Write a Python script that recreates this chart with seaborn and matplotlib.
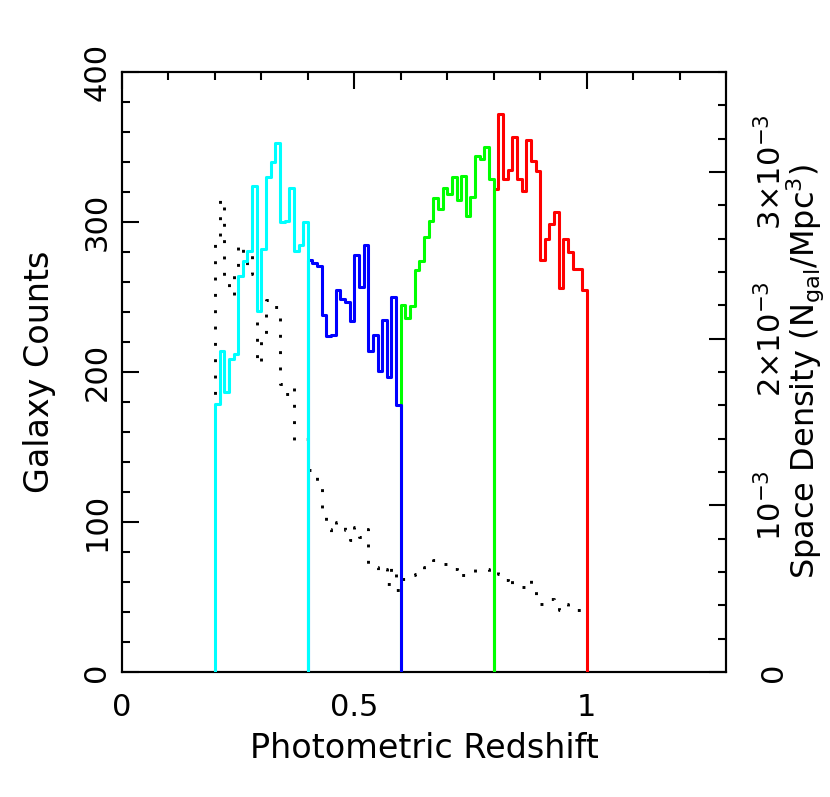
import numpy as np
import pandas as pd
import matplotlib
matplotlib.use("Agg")
import matplotlib.pyplot as plt
from matplotlib.ticker import MultipleLocator, FixedLocator
import seaborn as sns

# redshift slices, 0.01 wide bins
BIN_WIDTH = 0.01
slice_starts = [0.2, 0.4, 0.6, 0.8]
slice_colors = ['#00ffff', '#0000ff', '#00ff00', '#ff0000']

# galaxy counts per bin (left axis)
cyan_counts = [179, 214, 187, 209, 212, 264, 274, 281, 324, 241,
               282, 330, 340, 353, 300, 301, 323, 281, 285, 300]
blue_counts = [275, 273, 271, 238, 224, 225, 255, 249, 247, 234,
               278, 257, 285, 214, 225, 201, 235, 197, 250, 178]
green_counts = [245, 236, 244, 268, 274, 290, 301, 316, 309, 323,
                319, 330, 315, 331, 304, 317, 344, 342, 350, 329]
red_counts = [322, 372, 329, 335, 357, 329, 321, 355, 341, 334,
              275, 289, 299, 307, 256, 289, 280, 269, 269, 255]

# space density per bin, units of 1e-3 N_gal/Mpc^3 (right axis), z = 0.20 ... 0.99
density = [2.58, 2.84, 2.34, 2.26, 2.38, 2.57, 2.51, 2.39, 2.52, 1.85,
           2.01, 2.23, 2.19, 2.19, 1.73, 1.67, 1.71, 1.39, 1.39, 1.40,
           1.21, 1.17, 1.13, 0.94, 0.86, 0.84, 0.90, 0.87, 0.85, 0.79,
           0.87, 0.81, 0.86, 0.63, 0.63, 0.60, 0.62, 0.53, 0.63, 0.49,
           0.56, 0.57, 0.58, 0.59, 0.61, 0.63, 0.64, 0.67, 0.66, 0.65,
           0.64, 0.62, 0.63, 0.58, 0.58, 0.58, 0.62, 0.62, 0.62, 0.57,
           0.63, 0.59, 0.55, 0.58, 0.52, 0.52, 0.51, 0.55, 0.50, 0.46,
           0.41, 0.41, 0.44, 0.42, 0.37, 0.41, 0.39, 0.38, 0.37, 0.36]
density_start = 0.2

x_ticks = [0, 0.5, 1]
x_ticklabels = ['0', '0.5', '1']
y_ticks = [0, 100, 200, 300, 400]
y2_ticks = [0, 1, 2, 3]
y2_ticklabels = ['0', r'$10^{-3}$', r'$2{\times}10^{-3}$', r'$3{\times}10^{-3}$']


def closed_steps(start, values):
    """x/y for a step outline that drops to zero at both ends"""
    n = len(values)
    left = start + BIN_WIDTH * np.arange(n)
    end = start + BIN_WIDTH * n
    x = np.concatenate([[start], left, [end, end]])
    y = np.concatenate([[0], values, [values[-1], 0]])
    return pd.DataFrame({'z': x, 'v': y})


sns.set_style("white")
plt.rcParams['font.family'] = ['DejaVu Sans']
plt.rcParams['mathtext.default'] = 'regular'
plt.rcParams['text.color'] = 'black'
plt.rcParams['axes.labelcolor'] = 'black'
plt.rcParams['xtick.color'] = 'black'
plt.rcParams['ytick.color'] = 'black'

fig = plt.figure(figsize=(8.30, 7.97), dpi=100)
ax = fig.add_axes([122 / 830, 1 - 672 / 797, 604 / 830, 600 / 797])
ax2 = ax.twinx()

# dotted space density on the right axis
dens = closed_steps(density_start, density)
sns.lineplot(data=dens, x='z', y='v', ax=ax2, estimator=None, sort=False,
             color='black', linewidth=2.1, linestyle=(0, (1.0, 4.6)),
             drawstyle='steps-post')

# coloured histograms, drawn so the lower-z slice sits on top
all_counts = [cyan_counts, blue_counts, green_counts, red_counts]
for k in [3, 2, 1, 0]:
    d = closed_steps(slice_starts[k], all_counts[k])
    sns.lineplot(data=d, x='z', y='v', ax=ax, estimator=None, sort=False,
                 color=slice_colors[k], linewidth=2.2, drawstyle='steps-post',
                 zorder=3 + (3 - k))

ax.set_zorder(ax2.get_zorder() + 1)
ax.patch.set_visible(False)

ax.set_xlim(0, 1.3)
ax.set_ylim(0, 400)
ax2.set_ylim(0, 3.6)

ax.xaxis.set_major_locator(FixedLocator(x_ticks))
ax.set_xticklabels(x_ticklabels)
ax.xaxis.set_minor_locator(MultipleLocator(0.1))
ax.yaxis.set_major_locator(FixedLocator(y_ticks))
ax.set_yticklabels([str(v) for v in y_ticks])
ax.yaxis.set_minor_locator(MultipleLocator(20))
ax2.yaxis.set_major_locator(FixedLocator(y2_ticks))
ax2.set_yticklabels(y2_ticklabels)
ax2.yaxis.set_minor_locator(MultipleLocator(0.2))

ax.tick_params(which='both', direction='in', top=True, right=False,
               width=1.5, color='black', labelcolor='black', labelsize=22)
ax.tick_params(which='major', length=12)
ax.tick_params(which='minor', length=6)
ax.tick_params(axis='x', which='major', pad=15)
ax.tick_params(axis='y', which='major', pad=12)
ax2.tick_params(which='both', direction='in', width=1.5, color='black',
                labelcolor='black', labelsize=22)
ax2.tick_params(which='major', length=12, pad=40)
ax2.tick_params(which='minor', length=6)

for lab in list(ax.get_yticklabels()) + list(ax2.get_yticklabels()):
    lab.set_rotation(90)
    lab.set_rotation_mode('anchor')
    lab.set_ha('center')
    lab.set_va('baseline')

for a in (ax, ax2):
    for s in a.spines.values():
        s.set_linewidth(1.5)
        s.set_color('black')

ax.set_xlabel('Photometric Redshift', fontsize=24, va='center', color='black')
ax.set_ylabel('Galaxy Counts', fontsize=24, va='center', color='black')
ax2.set_ylabel(r'Space Density (N$_{gal}$/Mpc$^{3}$)', fontsize=23, va='center',
               rotation=90, color='black')
ax.xaxis.set_label_coords(0.5, -0.127)
ax.yaxis.set_label_coords(-0.136, 0.5)
ax2.yaxis.set_label_coords(1.132, 0.5)

fig.savefig('out.png', dpi=100)
